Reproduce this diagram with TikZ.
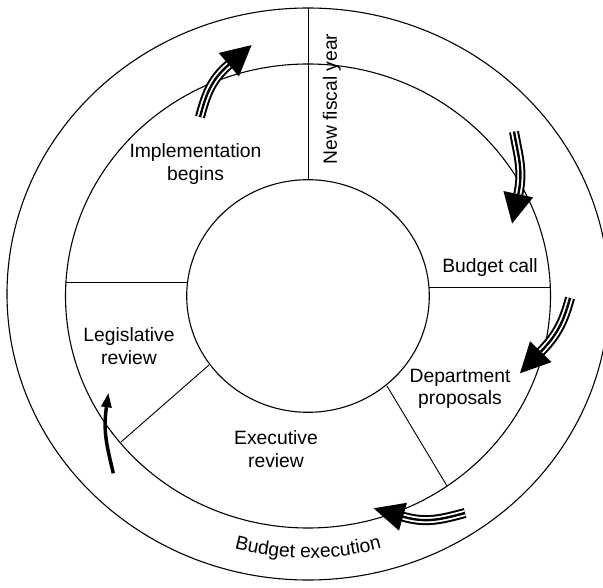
\documentclass[tikz,border=0pt]{standalone}
\usepackage{fontspec}
\setmainfont{Liberation Sans}
\usetikzlibrary{calc,decorations.text}
\newcommand\lblfont{\fontsize{19.3}{22.5}\selectfont}
\begin{document}
\begin{tikzpicture}[x=1pt,y=1pt,
  ring/.style={line width=1.1pt},
  divider/.style={line width=0.9pt},
  lbl/.style={font=\lblfont, align=center, inner sep=0pt},
  tripA/.style={line width=10pt},
  tripB/.style={line width=6pt, white},
  tripC/.style={line width=2.4pt},
  headfill/.style={fill=black}
]
\useasboundingbox (0,0) rectangle (603,587);
\clip (0,0) rectangle (603,587);
% centres
\coordinate (C) at (308,291);
\coordinate (Co) at (308,293);
% rings
\draw[ring] (Co) ellipse [x radius=301, y radius=286];
\draw[ring] (C) ellipse [x radius=242.5, y radius=232];
\draw[ring] (C) ellipse [x radius=121.3, y radius=116.3];
% divider end points
\coordinate (v1) at ($(C)+(90:121.3 and 116.3)$);
\coordinate (v2) at ($(Co)+(90:301 and 286)$);
\coordinate (bc1) at (429,300);
\coordinate (bc2) at (550.3,300);
\coordinate (lf1) at (187.6,305);
\coordinate (lf2) at (65.9,305);
\coordinate (ll1) at (209,222);
\coordinate (ll2) at (121,145);
\coordinate (lr1) at (387,201);
\coordinate (lr2) at (447,101);
\draw[divider] (v1) -- (v2);
\draw[divider] (bc1) -- (bc2);
\draw[divider] (lf1) -- (lf2);
\draw[divider] (ll1) -- (ll2);
\draw[divider] (lr1) -- (lr2);
% labels
\node[lbl, rotate=90] (nfy) at (332,488) {New fiscal year};
\node[lbl] (impl) at (195.5,423) {Implementation\\begins};
\node[lbl] (bcall) at (490,319) {Budget call};
\node[lbl] (dept) at (460,198) {Department\\proposals};
\node[lbl] (exec) at (276,138) {Executive\\review};
\node[lbl] (legis) at (129,241) {Legislative\\review};
\path[decorate, decoration={text along path, text={|\lblfont|Budget execution}, text align=center}]
  ($(C)+(235:274 and 262)$) arc[start angle=235, end angle=305, x radius=274, y radius=262];
% triple arrows
% A (top left)
\coordinate (As) at (200,470);
\coordinate (Ab) at (228.8,522.3);
\draw[tripA] (As) to[out=75,in=220.7] (Ab);
\draw[tripB] (As) to[out=75,in=220.7] (Ab);
\draw[tripC] (As) to[out=75,in=220.7] (Ab);
\fill[headfill] ($(Ab)+(130.7:15.5)$) -- ($(Ab)+(40.7:30)$) -- ($(Ab)+(-49.3:15.5)$) -- cycle;
% B (top right)
\coordinate (Bs) at (514,455.3);
\coordinate (Bb) at (518.3,392.8);
\draw[tripA] (Bs) to[out=-80,in=78] (Bb);
\draw[tripB] (Bs) to[out=-80,in=78] (Bb);
\draw[tripC] (Bs) to[out=-80,in=78] (Bb);
\fill[headfill] ($(Bb)+(348:15.2)$) -- ($(Bb)+(258:30)$) -- ($(Bb)+(168:15.2)$) -- cycle;
% C (right)
\coordinate (Cs) at (570,289);
\coordinate (Cb) at (540.8,235.3);
\draw[tripA] (Cs) to[out=255,in=46] (Cb);
\draw[tripB] (Cs) to[out=255,in=46] (Cb);
\draw[tripC] (Cs) to[out=255,in=46] (Cb);
\fill[headfill] ($(Cb)+(316:15)$) -- ($(Cb)+(226:30)$) -- ($(Cb)+(136:15)$) -- cycle;
% D (bottom)
\coordinate (Ds) at (465,74);
\coordinate (Db) at (403,70.3);
\draw[tripA] (Ds) to[out=195,in=-16] (Db);
\draw[tripB] (Ds) to[out=195,in=-16] (Db);
\draw[tripC] (Ds) to[out=195,in=-16] (Db);
\fill[headfill] ($(Db)+(254:14.5)$) -- ($(Db)+(164:30.5)$) -- ($(Db)+(74:14.5)$) -- cycle;
% E (left, single)
\coordinate (Es) at (113.3,113.7);
\coordinate (Eb) at (106.4,179.8);
\draw[line width=3.5pt] (Es) to[out=103,in=262] (Eb);
\fill[headfill] ($(Eb)+(172:5.5)$) -- ($(Eb)+(82:14)$) -- ($(Eb)+(-8:5.5)$) -- cycle;
\end{tikzpicture}
\end{document}
